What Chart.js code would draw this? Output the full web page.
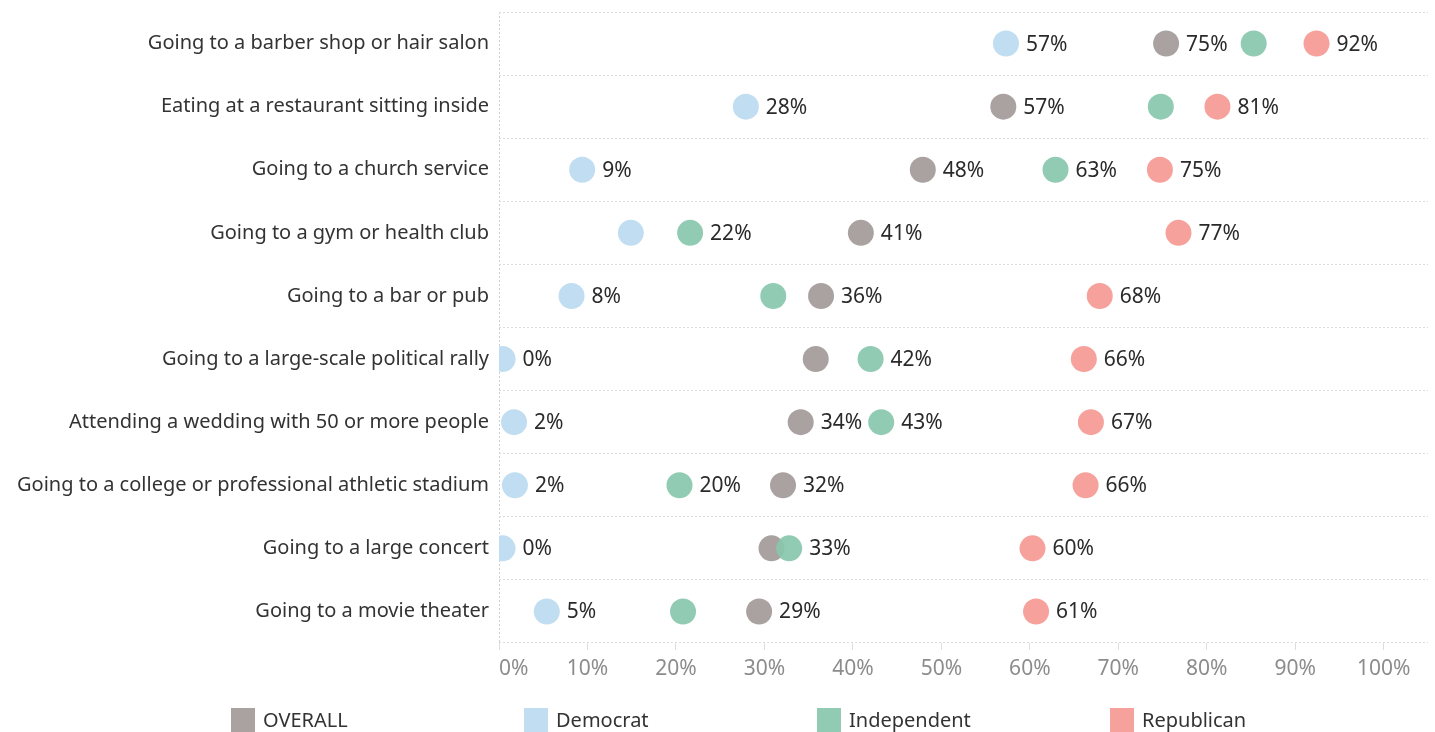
<!DOCTYPE html>
<html>
<head>
<meta charset="utf-8">
<title>Comfort with activities by party</title>
<script src="https://cdn.jsdelivr.net/npm/chart.js@4.4.1/dist/chart.umd.min.js"></script>
<style>
  html, body { margin: 0; padding: 0; background: #fff; }
  #wrap { width: 1435px; height: 732px; }
</style>
</head>
<body>
<div id="wrap"><canvas id="myChart" width="1435" height="732"></canvas></div>
<script>
var activities = [
  'Going to a barber shop or hair salon',
  'Eating at a restaurant sitting inside',
  'Going to a church service',
  'Going to a gym or health club',
  'Going to a bar or pub',
  'Going to a large-scale political rally',
  'Attending a wedding with 50 or more people',
  'Going to a college or professional athletic stadium',
  'Going to a large concert',
  'Going to a movie theater'
];

var overall     = [75.4, 57.0, 47.9, 40.9, 36.4, 35.8, 34.1, 32.1, 30.8, 29.4];
var democrat    = [57.3, 27.9,  9.4, 14.9,  8.2,  0.4,  1.7,  1.8,  0.4,  5.4];
var independent = [85.3, 74.8, 62.9, 21.6, 31.0, 42.0, 43.2, 20.4, 32.8, 20.8];
var republican  = [92.4, 81.2, 74.7, 76.8, 67.9, 66.1, 66.9, 66.3, 60.3, 60.7];

var xTicks = [0, 10, 20, 30, 40, 50, 60, 70, 80, 90, 100];

// rows where the value label was dropped because it ran into the next dot
var hiddenLabels = {
  'OVERALL': [5, 8],
  'Democrat': [3],
  'Independent': [0, 1, 4, 9],
  'Republican': []
};

var FONT = '"Noto Sans", "Open Sans", sans-serif';

function dots(label, values, color, order) {
  return {
    label: label,
    data: values,
    showLine: false,
    backgroundColor: color,
    borderColor: color,
    pointRadius: 13,
    pointBorderWidth: 0,
    pointHoverRadius: 13,
    order: order
  };
}

// percentage text to the right of each dot
var valueLabels = {
  id: 'valueLabels',
  afterDatasetsDraw: function(chart) {
    var ctx = chart.ctx;
    ctx.save();
    ctx.font = '21px ' + FONT;
    ctx.fillStyle = '#2a2a2a';
    ctx.textAlign = 'left';
    ctx.textBaseline = 'middle';
    chart.data.datasets.forEach(function(ds, i) {
      var meta = chart.getDatasetMeta(i);
      var skip = hiddenLabels[ds.label] || [];
      meta.data.forEach(function(pt, j) {
        if (skip.indexOf(j) > -1) return;
        ctx.fillText(Math.round(ds.data[j]) + '%', pt.x + 20, pt.y + 1);
      });
    });
    ctx.restore();
  }
};

// tableau style legend: evenly spaced columns under the axis
var squareLegend = {
  id: 'squareLegend',
  afterDraw: function(chart) {
    var ctx = chart.ctx;
    var items = ['OVERALL', 'Democrat', 'Independent', 'Republican'];
    ctx.save();
    ctx.font = '20px ' + FONT;
    ctx.textBaseline = 'middle';
    ctx.textAlign = 'left';
    items.forEach(function(name, i) {
      var ds = chart.data.datasets.filter(function(d) { return d.label === name; })[0];
      var x = 231 + i * 293;
      ctx.fillStyle = ds.backgroundColor;
      ctx.fillRect(x, 708, 24, 24);
      ctx.fillStyle = '#333';
      ctx.fillText(name, x + 32, 721);
    });
    ctx.restore();
  }
};

var ctx = document.getElementById('myChart').getContext('2d');
var myChart = new Chart(ctx, {
  type: 'line',
  data: {
    labels: activities,
    datasets: [
      dots('OVERALL', overall, 'rgba(162,154,152,0.92)', 4),
      dots('Democrat', democrat, 'rgba(189,219,240,0.95)', 3),
      dots('Independent', independent, 'rgba(137,199,172,0.92)', 2),
      dots('Republican', republican, 'rgba(245,156,150,0.95)', 1)
    ]
  },
  options: {
    indexAxis: 'y',
    responsive: false,
    animation: false,
    events: [],
    layout: { autoPadding: false, padding: { top: 12, right: 7, left: 0, bottom: 0 } },
    plugins: {
      legend: { display: false },
      tooltip: { enabled: false }
    },
    scales: {
      x: {
        type: 'linear',
        position: 'bottom',
        min: 0,
        max: 105,
        afterBuildTicks: function(scale) {
          scale.ticks = xTicks.concat([105]).map(function(v) { return { value: v }; });
        },
        afterFit: function(scale) {
          scale.height = 89;
          scale.paddingLeft = 0;
          scale.paddingRight = 0;
        },
        grid: {
          drawOnChartArea: true,
          drawTicks: true,
          tickLength: 7,
          color: function(c) { return c.tick && c.tick.value === 0 ? '#cfcfcf' : 'rgba(0,0,0,0)'; },
          tickColor: function(c) { return c.tick && c.tick.value === 105 ? 'rgba(0,0,0,0)' : '#dedede'; }
        },
        border: { display: false, dash: [2, 2] },
        ticks: {
          align: 'inner',
          autoSkip: false,
          maxRotation: 0,
          padding: 6,
          color: '#8c8c8c',
          font: { family: FONT, size: 21 },
          callback: function(v) { return v > 100 ? '' : v + '%'; }
        }
      },
      y: {
        type: 'category',
        offset: true,
        afterFit: function(scale) {
          scale.width = 499;
          scale.paddingTop = 0;
          scale.paddingBottom = 0;
        },
        grid: { offset: true, drawTicks: false, color: '#dcdcdc' },
        border: { display: false, dash: [2, 2] },
        ticks: {
          autoSkip: false,
          padding: 10,
          color: '#333',
          font: { family: FONT, size: 20 }
        }
      }
    }
  },
  plugins: [valueLabels, squareLegend]
});
</script>
</body>
</html>
